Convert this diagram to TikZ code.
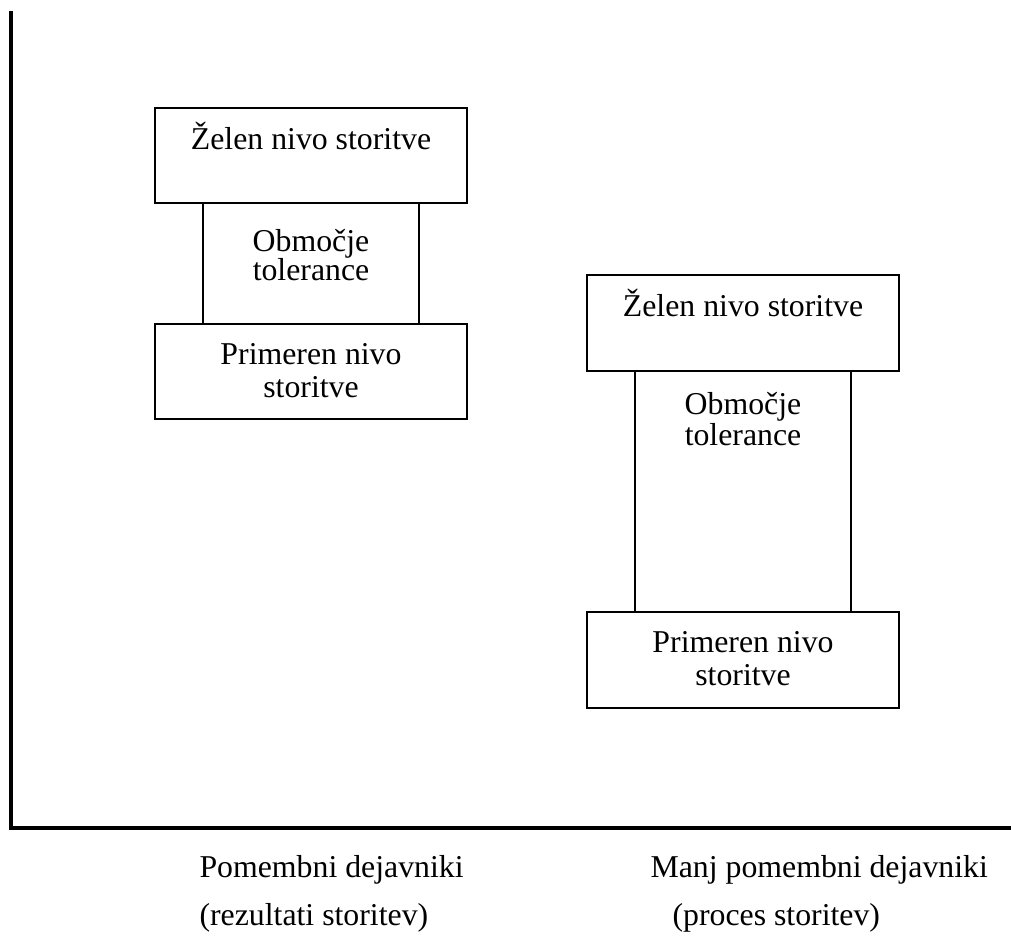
\documentclass[tikz,border=0pt]{standalone}
\usepackage{fontspec}
\setmainfont{Liberation Serif}
\usepackage{tikz}

\begin{document}
\begin{tikzpicture}[x=0.3774pt, y=-0.3774pt, font=\fontsize{12}{12}\selectfont,
  every node/.style={inner sep=0pt},
  levelbox/.style={draw, line width=0.8pt, minimum width=117.7pt, minimum height=36pt},
  tolbox/.style={draw, line width=0.8pt, minimum width=81.5pt},
  axis/.style={line width=1.2pt}]
  \useasboundingbox (0,0) rectangle (1011,938);
  % axes
  \coordinate (ytop) at (11,11);
  \coordinate (orig) at (11,828);
  \coordinate (xend) at (1011,828);
  \draw[axis] (ytop) -- (orig) -- (xend);
  % left group
  \node (lzel) [levelbox] at (311,155.5) {};
  \node (ltol) [tolbox, minimum height=45.7pt] at (311,263.5) {};
  \node (lpri) [levelbox] at (311,371.5) {};
  \node (lzelt) [anchor=base] at (311,150) {Želen nivo storitve};
  \node (ltol1) [anchor=base] at (311,252) {Območje};
  \node (ltol2) [anchor=base] at (311,281) {tolerance};
  \node (lpri1) [anchor=base] at (311,365) {Primeren nivo};
  \node (lpri2) [anchor=base] at (311,398) {storitve};
  % right group
  \node (rzel) [levelbox] at (743,323) {};
  \node (rtol) [tolbox, minimum height=91pt] at (743,491.5) {};
  \node (rpri) [levelbox] at (743,660) {};
  \node (rzelt) [anchor=base] at (743,317) {Želen nivo storitve};
  \node (rtol1) [anchor=base] at (743,415) {Območje};
  \node (rtol2) [anchor=base] at (743,446) {tolerance};
  \node (rpri1) [anchor=base] at (743,653) {Primeren nivo};
  \node (rpri2) [anchor=base] at (743,686) {storitve};
  % axis labels
  \node (pom) [anchor=base west] at (199,877) {Pomembni dejavniki};
  \node (rez) [anchor=base west] at (199,925) {(rezultati storitev)};
  \node (manj) [anchor=base west] at (650,877) {Manj pomembni dejavniki};
  \node (proc) [anchor=base west] at (672,925) {(proces storitev)};
\end{tikzpicture}
\end{document}
